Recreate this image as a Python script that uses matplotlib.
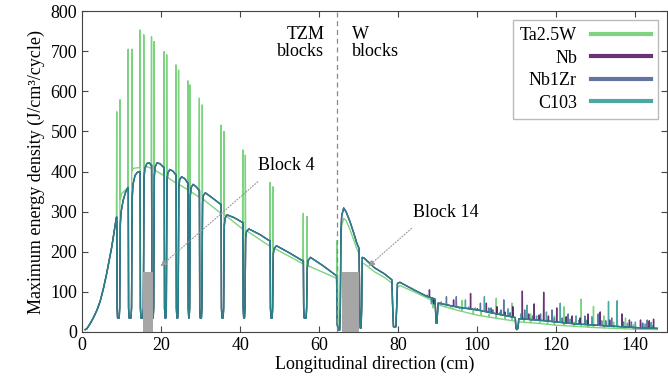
import matplotlib.pyplot as plt
import numpy as np

plt.rcParams['font.family'] = ['Liberation Serif', 'DejaVu Serif']
plt.rcParams['font.size'] = 13

# --- data (x in cm, y in J/cm3/cycle) ---

# common rising part before the first TZM gap
rise_x = [0.8, 1.2, 2.0, 2.9, 3.8, 4.6, 5.4, 6.2, 7.0, 7.5, 8.2, 8.7]
rise_y = [6, 8, 20, 36, 55, 77, 108, 144, 185, 211, 255, 286]

# gaps between TZM blocks (left / right edge)
gap_left = [8.8, 11.7, 14.7, 17.6, 20.8, 23.8, 26.8, 29.7, 35.2, 40.7, 47.6, 56.0]
gap_right = [9.6, 12.6, 15.6, 18.2, 21.4, 24.4, 27.3, 30.4, 35.9, 41.3, 48.3, 56.9]
gap_floor = 35
# Ta2.5W spikes at the gap edges
ta_spike_left = [549, 705, 753, 736, 699, 666, 626, 583, 516, 454, 373, 296]
ta_spike_right = [579, 705, 741, 724, 691, 653, 616, 566, 500, 441, 362, 288]

# Nb-type profile inside TZM blocks 2..13
nb_blocks_x = [
    [9.7, 9.9, 10.4, 11.0, 11.6],
    [12.7, 12.9, 13.4, 14.0, 14.6],
    [15.7, 15.9, 16.4, 17.0, 17.5],
    [18.3, 18.5, 19.0, 19.8, 20.7],
    [21.5, 21.7, 22.2, 23.0, 23.7],
    [24.5, 24.7, 25.2, 26.0, 26.7],
    [27.4, 27.6, 28.1, 28.9, 29.6],
    [30.5, 30.7, 31.2, 33.0, 35.1],
    [36.0, 36.2, 36.7, 38.5, 40.6],
    [41.4, 41.6, 42.2, 45.0, 47.5],
    [48.4, 48.6, 49.2, 52.5, 55.9],
    [57.0, 57.2, 57.8, 61.0, 64.4],
]
nb_blocks_y = [
    [270, 300, 328, 348, 360],
    [335, 368, 390, 398, 400],
    [385, 408, 420, 422, 416],
    [390, 412, 422, 419, 410],
    [375, 396, 405, 401, 392],
    [360, 380, 387, 382, 372],
    [340, 360, 368, 362, 353],
    [322, 340, 347, 334, 318],
    [265, 284, 292, 285, 273],
    [235, 250, 257, 243, 227],
    [195, 208, 215, 197, 177],
    [160, 178, 186, 165, 140],
]

# Ta2.5W profile inside TZM blocks 2..13
ta_blocks_x = [
    [9.7, 10.0, 11.6],
    [12.7, 13.0, 14.6],
    [15.7, 16.5, 17.5],
    [18.3, 20.7],
    [21.5, 23.7],
    [24.5, 26.7],
    [27.4, 29.6],
    [30.5, 35.1],
    [36.0, 40.6],
    [41.4, 47.5],
    [48.4, 55.9],
    [57.0, 64.4],
]
ta_blocks_y = [
    [330, 345, 360],
    [402, 408, 410],
    [410, 412, 408],
    [404, 390],
    [386, 372],
    [368, 355],
    [351, 336],
    [332, 296],
    [293, 257],
    [254, 214],
    [210, 170],
    [166, 134],
]

# W blocks
w_x = [64.55, 64.8, 65.2, 65.35, 65.5, 65.7, 66.2, 66.8, 67.8, 68.8, 69.5, 70.1,
       70.25, 70.4, 70.6, 70.75, 70.9, 71.4, 74.0, 76.5, 78.4, 78.6, 78.8, 79.4,
       79.6, 79.8, 80.4, 84.0, 87.0, 89.3, 89.45, 89.6, 89.8, 89.95]
w_nb_y = [20, 5, 5, 60, 250, 290, 309, 300, 275, 245, 222, 208,
          60, 10, 10, 60, 186, 184, 160, 145, 130, 60, 13, 13,
          60, 121, 124, 105, 90, 82, 50, 22, 22, 50]
w_ta_y = [228, 5, 5, 60, 230, 265, 283, 278, 255, 228, 208, 195,
          60, 10, 10, 60, 172, 170, 150, 136, 122, 60, 13, 13,
          60, 110, 116, 100, 86, 76, 50, 22, 22, 50]

# tail after 90 cm
tail_x = [90.1, 95, 100, 105, 109.6, 109.8, 110.0, 110.3, 110.5, 115, 120, 125, 130, 135, 140, 145.5]
tail_nb_y = [72, 62, 55, 45, 36, 10, 6, 10, 33, 30, 25, 20, 17, 14, 11, 9]
tail_ta_y = [68, 54, 42, 34, 27, 8, 5, 8, 25, 22, 17, 14, 11, 9, 7, 6]

# noisy spikes in the tail (x, top)
nb_spk_x = [87.9, 89.0, 90.6, 92.8, 94.0, 96.5, 98.3, 100.0, 102.3, 103.8, 105.0, 107.0,
            109.0, 111.4, 113.0, 114.4, 115.6, 116.8, 118.0, 120.1, 122.5, 124.0, 126.0,
            128.0, 131.1, 133.5, 136.6, 138.5, 141.3, 143.5, 144.6]
nb_spk_y = [105, 70, 72, 66, 80, 60, 96, 58, 72, 55, 63, 50,
            63, 102, 45, 70, 42, 99, 40, 60, 38, 40, 35,
            45, 50, 30, 45, 30, 30, 28, 32]
nbzr_spk_x = [87.3, 88.6, 91.5, 92.2, 94.7, 97.8, 100.8, 102.9, 103.5, 106.0, 106.7, 108.3,
              112.0, 114.0, 116.0, 118.9, 121.5, 123.0, 125.8, 127.2, 130.6, 132.5, 134.0,
              137.0, 139.0, 141.8, 143.0]
nbzr_spk_y = [92, 75, 70, 88, 88, 62, 72, 60, 60, 55, 80, 48,
              55, 40, 45, 55, 35, 45, 30, 40, 45, 28, 35,
              25, 25, 22, 30]
c103_spk_x = [88.4, 90.9, 93.3, 95.5, 97.0, 99.5, 101.8, 104.0, 105.8, 107.8, 111.0, 112.6,
              115.0, 117.5, 119.5, 121.0, 123.5, 125.0, 127.5, 129.0, 131.5, 133.2, 135.4,
              138.0, 140.0, 142.5, 144.0]
c103_spk_y = [70, 75, 62, 58, 80, 60, 88, 55, 50, 58, 45, 67,
              40, 50, 35, 72, 32, 40, 30, 38, 28, 76, 78,
              22, 25, 20, 24]
ta_spk_x = [88.8, 91.8, 93.8, 96.1, 99.0, 101.0, 103.0, 104.8, 107.0, 108.8, 111.8, 113.5,
            115.8, 117.8, 119.5, 121.9, 124.5, 126.3, 128.0, 129.4, 132.0, 134.5, 137.5,
            139.5, 142.0, 144.3]
ta_spk_y = [60, 62, 60, 79, 55, 50, 45, 84, 40, 72, 35, 45,
            32, 30, 40, 63, 25, 82, 28, 64, 40, 25, 35,
            18, 22, 16]

# grey boxes marking block 4 and block 14
box_left = [15.5, 65.7]
box_right = [17.9, 70.2]
box_height = [150, 150]


def nb_profile():
    x = list(rise_x)
    y = list(rise_y)
    for i in range(len(gap_left)):
        gl, gr = gap_left[i], gap_right[i]
        x += [gl, gl + 0.08, gl + 0.2, gr - 0.2, gr - 0.08]
        y += [y[-1], 60, gap_floor, gap_floor, 60]
        x += nb_blocks_x[i]
        y += nb_blocks_y[i]
    return x + w_x + tail_x, y + w_nb_y + tail_nb_y


def ta_profile():
    x = list(rise_x)
    y = list(rise_y)
    for i in range(len(gap_left)):
        gl, gr = gap_left[i], gap_right[i]
        x += [gl - 0.02, gl + 0.05, gl + 0.2, gr - 0.2, gr - 0.05, gr + 0.02]
        y += [ta_spike_left[i], 60, gap_floor, gap_floor, 60, ta_spike_right[i]]
        x += ta_blocks_x[i]
        y += ta_blocks_y[i]
    return x + w_x + tail_x, y + w_ta_y + tail_ta_y


def add_spikes(x, y, sx, sy):
    x = np.array(x, float)
    y = np.array(y, float)
    for px, top in zip(sx, sy):
        foot = np.interp(px, x, y)
        i = np.searchsorted(x, px)
        x = np.insert(x, i, [px - 0.06, px, px + 0.06])
        y = np.insert(y, i, [foot, top, foot])
    return x, y


nb_x, nb_y = nb_profile()
ta_x, ta_y = ta_profile()

series = [
    ('Ta2.5W', '#5ec962', ta_x, ta_y, ta_spk_x, ta_spk_y),
    ('Nb', '#440154', nb_x, nb_y, nb_spk_x, nb_spk_y),
    ('Nb1Zr', '#3b528b', nb_x, nb_y, nbzr_spk_x, nbzr_spk_y),
    ('C103', '#21918c', nb_x, nb_y, c103_spk_x, c103_spk_y),
]

fig = plt.figure(figsize=(6.68, 3.78), dpi=100)
ax = fig.add_axes([0.1228, 0.1217, 0.8757, 0.849])

for name, col, x, y, sx, sy in series:
    xx, yy = add_spikes(x, y, sx, sy)
    ax.plot(xx, yy, color=col, alpha=0.8, lw=1.0, label=name)

for l, r, h in zip(box_left, box_right, box_height):
    ax.bar(l, h, width=r - l, align='edge', color='#a6a6a6', zorder=5)

ax.axvline(64.6, color='#888888', ls=(0, (4, 3)), lw=0.9, zorder=6)

ax.text(61.3, 762, 'TZM\nblocks', ha='right', va='top', linespacing=1.0)
ax.text(68.3, 762, 'W\nblocks', ha='left', va='top', linespacing=1.0)

arrow = dict(arrowstyle='-|>', color='#999999', lw=0.8, ls=':', mutation_scale=9)
ax.annotate('', xy=(19.3, 159), xytext=(45, 379), arrowprops=arrow, zorder=7)
ax.annotate('', xy=(71.9, 159), xytext=(83.9, 263), arrowprops=arrow, zorder=7)
ax.text(44.6, 416, 'Block 4', ha='left', va='center')
ax.text(83.8, 299, 'Block 14', ha='left', va='center')

ax.set_xlim(0, 148)
ax.set_ylim(0, 800)
ax.set_xticks(np.arange(0, 141, 20))
ax.set_yticks(np.arange(0, 801, 100))
ax.tick_params(direction='in', top=True, right=True, length=4, color='#444444')
for s in ax.spines.values():
    s.set_color('#444444')
ax.set_xlabel('Longitudinal direction (cm)', labelpad=1)
ax.set_ylabel('Maximum energy density (J/cm³/cycle)', labelpad=4)

leg = ax.legend(loc='upper right', bbox_to_anchor=(0.985, 0.972), borderaxespad=0,
                markerfirst=False, fancybox=False, edgecolor='#bbbbbb',
                framealpha=1, handlelength=3.3, labelspacing=0.3)
for h in leg.get_lines():
    h.set_linewidth(3)

fig.savefig('out.png', dpi=100)
